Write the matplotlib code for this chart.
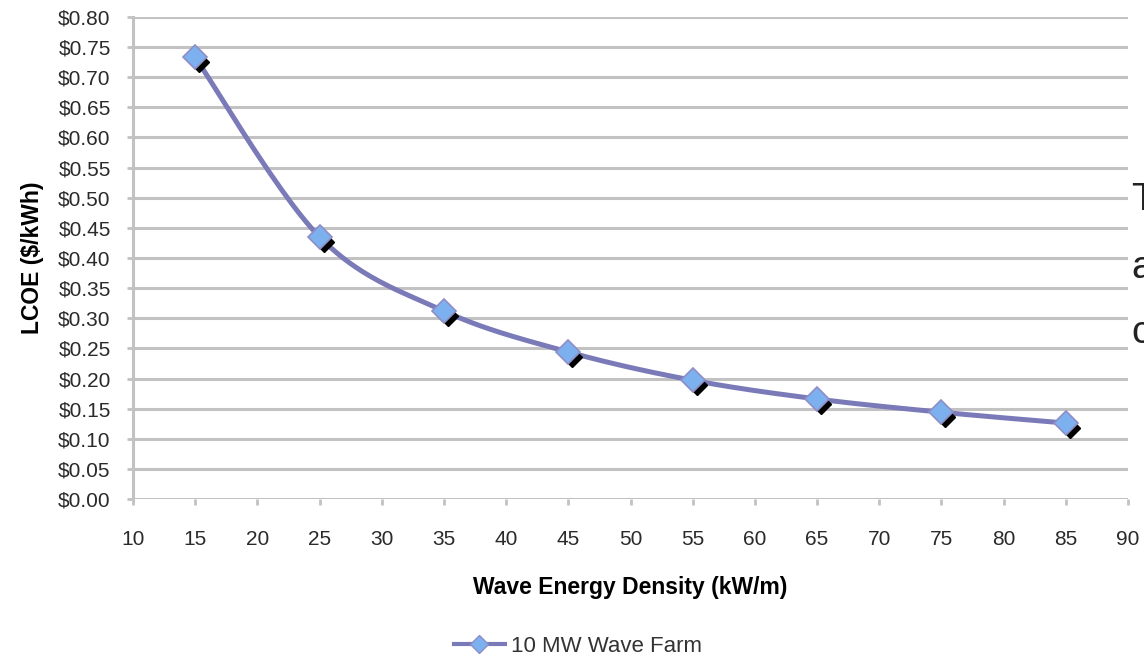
import numpy as np
import matplotlib
matplotlib.use("Agg")
from matplotlib import pyplot as plt
from matplotlib import transforms as mtrans
from matplotlib.ticker import FuncFormatter

plt.rcParams['font.family'] = ['Liberation Sans', 'DejaVu Sans']

# Data
density = [15, 25, 35, 45, 55, 65, 75, 85]
lcoe = [0.733, 0.435, 0.312, 0.244, 0.197, 0.166, 0.144, 0.126]
series_name = '10 MW Wave Farm'
side_letters = ['T', 'a', 'c']


def smooth_curve(xs, ys, n=30):
    # Excel style smoothed line (Catmull-Rom Bezier through the points)
    xs = np.asarray(xs, float)
    ys = np.asarray(ys, float)
    px = np.concatenate([[xs[0]], xs, [xs[-1]]])
    py = np.concatenate([[ys[0]], ys, [ys[-1]]])
    out_x, out_y = [], []
    t = np.linspace(0, 1, n)
    for i in range(1, len(px) - 2):
        p0 = np.array([px[i], py[i]])
        p3 = np.array([px[i + 1], py[i + 1]])
        p1 = p0 + (np.array([px[i + 1], py[i + 1]]) - np.array([px[i - 1], py[i - 1]])) / 6
        p2 = p3 - (np.array([px[i + 2], py[i + 2]]) - np.array([px[i], py[i]])) / 6
        b = ((1 - t) ** 3)[:, None] * p0 + (3 * (1 - t) ** 2 * t)[:, None] * p1 \
            + (3 * (1 - t) * t ** 2)[:, None] * p2 + (t ** 3)[:, None] * p3
        out_x.extend(b[:, 0])
        out_y.extend(b[:, 1])
    return out_x, out_y


fig = plt.figure(figsize=(11.44, 6.61), dpi=100)
ax = fig.add_axes([133 / 1144, 1 - 499 / 661, (1128 - 133) / 1144, (499 - 17) / 661])

ax.set_xlim(10, 90)
ax.set_ylim(0, 0.80)
ax.set_xticks(np.arange(10, 91, 5))
ax.set_yticks(np.arange(0, 0.801, 0.05))
ax.yaxis.set_major_formatter(FuncFormatter(lambda v, p: '\\$%.2f' % v))

ax.grid(True, axis='y', color='#c2c2c2', linewidth=2.2)
ax.set_axisbelow(True)
for side in ['top', 'right', 'bottom']:
    ax.spines[side].set_visible(False)
ax.spines['left'].set_color('#c2c2c2')
ax.spines['left'].set_linewidth(2.2)
ax.tick_params(axis='both', colors='#c2c2c2', width=2, length=4, labelcolor='#2a2a2a',
               labelsize=15)
ax.tick_params(axis='x', pad=18)
ax.tick_params(axis='y', pad=12)

sx, sy = smooth_curve(density, lcoe)
line_color = '#7a7ab8'
ax.plot(sx, sy, color=line_color, linewidth=3.6, zorder=3, solid_capstyle='round')

# drop shadow of markers
shadow = mtrans.offset_copy(ax.transData, fig=fig, x=4, y=-5, units='dots')
ax.plot(density, lcoe, linestyle='none', marker='D', markersize=10, color='black',
        transform=shadow, zorder=3.5)
ax.plot(density, lcoe, linestyle='none', marker='D', markersize=12.5,
        markerfacecolor='#7db0ee', markeredgecolor='#8e8ec6', markeredgewidth=1.2, zorder=4)

ax.set_ylabel('LCOE (\\$/kWh)', fontsize=16.5, fontweight='bold', labelpad=10)
ax.set_xlabel('Wave Energy Density (kW/m)', fontsize=16.5, fontweight='bold', labelpad=20)

# legend
leg = ax.legend(
    handles=[plt.Line2D([], [], color=line_color, linewidth=3, marker='D', markersize=9,
                        markerfacecolor='#7db0ee', markeredgecolor='#8e8ec6')],
    labels=[series_name], loc='center', bbox_to_anchor=(578 / 1144, 1 - 646 / 661),
    bbox_transform=fig.transFigure, frameon=False, fontsize=16, handlelength=2.3,
    handletextpad=0.3)
for txt in leg.get_texts():
    txt.set_color('#333333')

# cut off text at the right edge of the slide
for letter, ypix in zip(side_letters, [200, 268, 333]):
    fig.text(1131 / 1144, 1 - ypix / 661, letter, fontsize=28, va='center', ha='left',
             color='#222222')

fig.savefig('out.png', dpi=100)
